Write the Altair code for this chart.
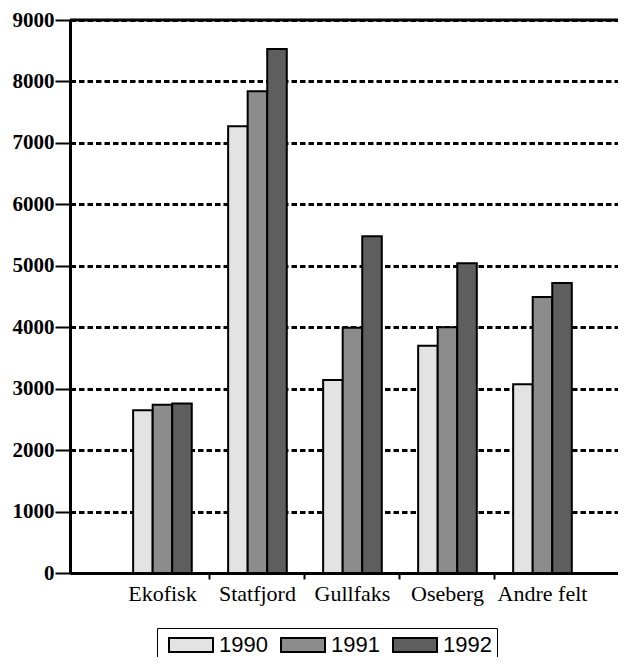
import altair as alt
import pandas as pd

fields = ["Ekofisk", "Statfjord", "Gullfaks", "Oseberg", "Andre felt"]
years = ["1990", "1991", "1992"]
v1990 = [2650, 7270, 3140, 3700, 3070]
v1991 = [2740, 7840, 3990, 4000, 4490]
v1992 = [2760, 8530, 5480, 5040, 4720]
y_ticks = [0, 1000, 2000, 3000, 4000, 5000, 6000, 7000, 8000, 9000]

rows = []
for yr, vals in zip(years, [v1990, v1991, v1992]):
    for f, v in zip(fields, vals):
        rows.append({"felt": f, "år": yr, "verdi": v})
df = pd.DataFrame(rows)

W, H = 548, 553

bars = alt.Chart(df).mark_bar(stroke="black", strokeWidth=2).encode(
    x=alt.X("felt:N", sort=fields, title=None,
            scale=alt.Scale(paddingInner=0, paddingOuter=0.384, align=0.616),
            axis=alt.Axis(labelAngle=0, labelFont="Liberation Serif", labelFontSize=22,
                          labelColor="black", labelPadding=4, bandPosition=0,
                          labelOverlap=False, labelBound=False,
                          tickColor="black", tickWidth=2, tickSize=6,
                          tickOpacity={"condition": {"test": "datum.value === 'Ekofisk'", "value": 0}, "value": 1},
                          domainColor="black", domainWidth=3, grid=False)),
    xOffset=alt.XOffset("år:N", sort=years,
                        scale=alt.Scale(paddingInner=0, paddingOuter=0.93)),
    y=alt.Y("verdi:Q", title=None,
            scale=alt.Scale(domain=[0, 9000], nice=False, zero=True),
            axis=alt.Axis(values=y_ticks, format="d", labelFont="Liberation Serif",
                          labelFontSize=21, labelFontWeight="bold", labelColor="black",
                          labelPadding=1, tickColor="black", tickWidth=2, tickSize=15,
                          domainColor="black", domainWidth=3,
                          grid=True, gridColor="black", gridWidth=3, gridDash=[5.5, 3])),
    color=alt.Color("år:N", sort=years,
                    scale=alt.Scale(domain=years, range=["#e3e3e3", "#8c8c8c", "#5e5e5e"]),
                    legend=alt.Legend(title=None, orient="none", legendX=87, legendY=608,
                                      direction="horizontal",
                                      symbolType="M-2,-0.636L2,-0.636L2,0.636L-2,0.636Z",
                                      symbolSize=484, symbolStrokeColor="black",
                                      symbolStrokeWidth=2, symbolOffset=17,
                                      labelFont="Liberation Sans",
                                      labelFontSize=22, labelColor="black", labelOffset=16,
                                      columnPadding=6, strokeColor="black", padding=5)),
)

top = alt.Chart(pd.DataFrame({"v": [9000]})).mark_rule(color="black", strokeWidth=3).encode(
    y=alt.Y("v:Q", scale=alt.Scale(domain=[0, 9000], nice=False))
)

chart = alt.layer(bars, top).properties(
    width=W, height=H,
    padding={"left": 62, "top": 12, "right": 0, "bottom": 84},
    autosize=alt.AutoSizeParams(type="none"),
).configure_view(stroke=None).configure(background="white")

chart.save("out.html", embed_options={"renderer": "svg", "actions": False})
